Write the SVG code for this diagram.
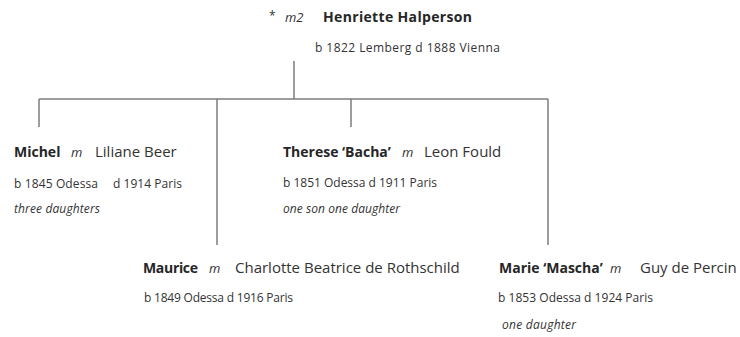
<svg xmlns="http://www.w3.org/2000/svg" width="740" height="337" viewBox="0 0 740 337">
<style>
text{font-family:"Open Sans","Liberation Sans",sans-serif;fill:#333}
.n{font-size:15px}
.b{font-weight:bold;font-size:14px;fill:#262626}
.m{font-style:italic;font-size:13px}
.s{font-size:12px}
.i{font-size:12px;font-style:italic}
.ln{stroke:#7d7d7d;stroke-width:1.5;fill:none}
</style>
<rect width="740" height="337" fill="#fff"/>
<g id="connectors">
<path class="ln" d="M294 61V99M39 99H548M39 99V127M217 99V245M351 99V127M548 99V245"/>
</g>
<g id="henriette">
<text x="269" y="20" class="s" font-size="11">*</text>
<text x="285" y="22" class="m">m2</text>
<text x="323" y="22" class="b" font-size="14.5" textLength="149">Henriette  Halperson</text>
<text x="315" y="52" class="s" textLength="185">b 1822 Lemberg d 1888 Vienna</text>
</g>
<g id="michel">
<text x="14" y="157" class="n"><tspan class="b">Michel</tspan><tspan class="m" x="71">m</tspan><tspan x="95">Liliane Beer</tspan></text>
<text x="14" y="188" class="s"><tspan textLength="84">b 1845 Odessa</tspan><tspan x="113" textLength="69">d 1914 Paris</tspan></text>
<text x="14" y="213" class="i" textLength="86">three daughters</text>
</g>
<g id="therese">
<text x="283" y="157" class="n"><tspan class="b">Therese ‘Bacha’</tspan><tspan class="m" x="402">m</tspan><tspan x="424">Leon Fould</tspan></text>
<text x="283" y="187" class="s" textLength="154">b 1851 Odessa d 1911 Paris</text>
<text x="283" y="213" class="i" textLength="117">one son one daughter</text>
</g>
<g id="maurice">
<text x="143" y="273" class="n"><tspan class="b" textLength="55">Maurice</tspan><tspan class="m" x="209">m</tspan><tspan x="235">Charlotte Beatrice de Rothschild</tspan></text>
<text x="144" y="302" class="s" textLength="149">b 1849 Odessa d 1916 Paris</text>
</g>
<g id="marie">
<text x="499" y="273" class="n"><tspan class="b">Marie ‘Mascha’</tspan><tspan class="m" x="610">m</tspan><tspan x="640">Guy de Percin</tspan></text>
<text x="498" y="302" class="s" textLength="155">b 1853 Odessa d 1924 Paris</text>
<text x="502" y="329" class="i" textLength="74">one daughter</text>
</g>
</svg>
